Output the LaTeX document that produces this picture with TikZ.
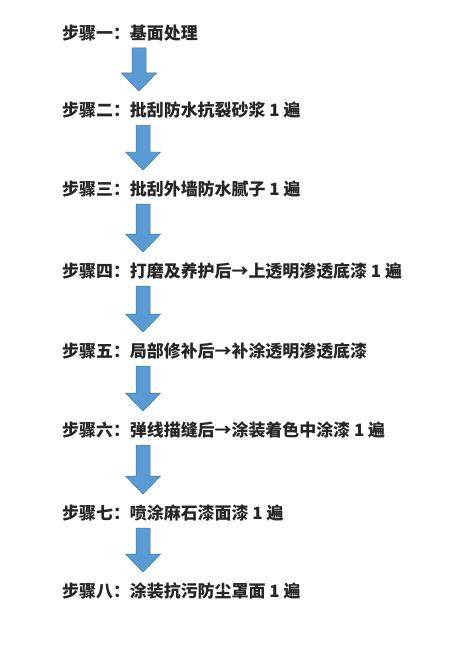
\documentclass[tikz,border=0pt]{standalone}
\usepackage{fontspec}
\newfontfamily\cjk{Noto Sans CJK SC}
\usetikzlibrary{calc}

\definecolor{arrowblue}{HTML}{5B9BD5}
\definecolor{arrowedge}{HTML}{41719C}
\definecolor{steptext}{HTML}{262626}

\tikzset{
  stepnode/.style={anchor=west, inner sep=0pt, text=steptext,
    font=\cjk\bfseries\fontsize{17}{19}\selectfont},
  flowarrow/.style={fill=arrowblue, draw=arrowedge, line width=0.5pt}
}

\begin{document}
\begin{tikzpicture}[x=1bp, y=-1bp]
    \useasboundingbox (0,0) rectangle (459,656);

    % steps
    \node[stepnode] (s1) at (62, 33)  {步骤一：基面处理};
    \node[stepnode] (s2) at (62, 110) {步骤二：批刮防水抗裂砂浆 1 遍};
    \node[stepnode] (s3) at (62, 189) {步骤三：批刮外墙防水腻子 1 遍};
    \node[stepnode] (s4) at (62, 271) {步骤四：打磨及养护后→上透明渗透底漆 1 遍};
    \node[stepnode] (s5) at (62, 351) {步骤五：局部修补后→补涂透明渗透底漆};
    \node[stepnode] (s6) at (62, 430) {步骤六：弹线描缝后→涂装着色中涂漆 1 遍};
    \node[stepnode] (s7) at (62, 513) {步骤七：喷涂麻石漆面漆 1 遍};
    \node[stepnode] (s8) at (62, 591) {步骤八：涂装抗污防尘罩面 1 遍};

    % block arrows between the steps
    \foreach \a/\b/\ax in {s1/s2/139, s2/s3/143, s3/s4/143, s4/s5/143,
                          s5/s6/143, s6/s7/143, s7/s8/143} {
      \coordinate (top) at ($(\a.center)+(0,15)$);
      \coordinate (tip) at ($(\b.center)+(0,-19)$);
      \draw[flowarrow] let \p1=(top), \p2=(tip), \p3=(\ax,0) in
        (\x3-7bp,\y1) -- (\x3+7bp,\y1) -- (\x3+7bp,\y2+18bp)
        -- (\x3+17.5bp,\y2+18bp) -- (\x3,\y2) -- (\x3-17.5bp,\y2+18bp)
        -- (\x3-7bp,\y2+18bp) -- cycle;
    }
\end{tikzpicture}
\end{document}
